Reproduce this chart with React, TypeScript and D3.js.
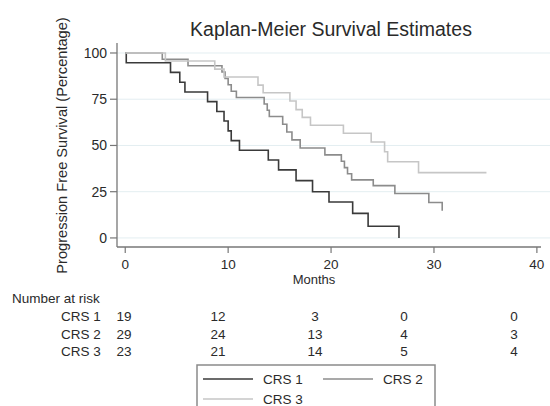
import React from 'react';
import * as d3 from 'd3';

// step points: time (months) and survival (%) after each drop
const crs1Times = [0, 0.1, 4.4, 5.3, 5.8, 8.0, 8.9, 9.6, 10.0, 10.3, 11.1, 13.9, 14.9, 16.6, 18.2, 19.8, 22.1, 23.6, 26.6];
const crs1Surv = [100, 94.7, 89.5, 84.2, 78.9, 73.7, 68.4, 63.2, 57.9, 52.6, 47.4, 42.1, 36.8, 31.0, 25.0, 19.4, 13.3, 6.3, 0];

const crs2Times = [0, 3.6, 6.1, 9.4, 9.7, 10.0, 10.3, 10.8, 13.5, 13.8, 14.0, 15.3, 15.7, 16.2, 17.0, 19.4, 21.0, 21.3, 21.6, 22.0, 24.1, 26.2, 29.5, 30.8];
const crs2Surv = [100, 96.6, 93.1, 89.7, 86.2, 82.8, 79.3, 75.9, 72.4, 69.0, 65.7, 61.5, 57.3, 53.0, 48.6, 44.9, 41.5, 38.0, 34.7, 31.4, 28.3, 24.0, 19.2, 14.7];

const crs3Times = [0, 3.9, 8.7, 9.6, 12.9, 13.4, 16.0, 16.6, 17.2, 18.0, 21.2, 23.9, 25.2, 25.5, 28.5, 35.1];
const crs3Surv = [100, 95.7, 91.3, 87.0, 82.6, 78.5, 74.0, 69.4, 65.2, 60.9, 56.6, 51.9, 46.6, 41.2, 35.3, 35.3];

const seriesNames = ['CRS 1', 'CRS 2', 'CRS 3'];
const seriesColors = ['#3a3a3a', '#8c8c8c', '#c6c6c6'];

const xTicks = [0, 10, 20, 30, 40];
const yTicks = [0, 25, 50, 75, 100];

const riskTimes = [0, 10, 20, 30, 40];
const riskCrs1 = [19, 12, 3, 0, 0];
const riskCrs2 = [29, 24, 13, 4, 3];
const riskCrs3 = [23, 21, 14, 5, 4];

const W = 550;
const H = 406;
const font = "'Liberation Sans', Arial, sans-serif";
const textColor = '#2a2a2a';

export default function App() {
  const x = d3.scaleLinear().domain([-0.8, 40.4]).range([117, 541]);
  const y = d3.scaleLinear().domain([-4.9, 105.4]).range([247, 43]);
  // the risk table columns sit a little left of the ticks in the original
  const riskX = d3.scaleLinear().domain(riskTimes).range([124, 218, 315, 404, 514]);

  const line = d3.line<[number, number]>()
    .x(d => x(d[0]))
    .y(d => y(d[1]))
    .curve(d3.curveStepAfter);

  const series = [
    d3.zip(crs1Times, crs1Surv) as [number, number][],
    d3.zip(crs2Times, crs2Surv) as [number, number][],
    d3.zip(crs3Times, crs3Surv) as [number, number][],
  ];
  const risk = [riskCrs1, riskCrs2, riskCrs3];

  const legendItems = [
    { name: seriesNames[0], color: seriesColors[0], lx: 203, ly: 379 },
    { name: seriesNames[1], color: seriesColors[1], lx: 323, ly: 379 },
    { name: seriesNames[2], color: seriesColors[2], lx: 203, ly: 399 },
  ];

  return (
    <svg width={W} height={H} style={{ position: 'absolute', left: 0, top: 0, background: '#fff' }} fontFamily={font}>
      <text x={331} y={36} textAnchor="middle" fontSize={19.5} fill={textColor}>Kaplan-Meier Survival Estimates</text>

      {yTicks.map(t => (
        <line key={'g' + t} x1={117} x2={W} y1={y(t)} y2={y(t)} stroke="#e3eef1" strokeWidth={1} />
      ))}

      {/* axes */}
      <line x1={117} x2={117} y1={43} y2={247} stroke="#777" strokeWidth={1.3} />
      <line x1={117} x2={541} y1={247} y2={247} stroke="#777" strokeWidth={1.3} />
      {yTicks.map(t => (
        <g key={'y' + t}>
          <line x1={110} x2={117} y1={y(t)} y2={y(t)} stroke="#777" strokeWidth={1.2} />
          <text x={107} y={y(t)} dy="0.35em" textAnchor="end" fontSize={14} fill={textColor}>{t}</text>
        </g>
      ))}
      {xTicks.map(t => (
        <g key={'x' + t}>
          <line x1={x(t)} x2={x(t)} y1={247} y2={253} stroke="#777" strokeWidth={1.2} />
          <text x={x(t)} y={268.5} textAnchor="middle" fontSize={13.5} fill={textColor}>{t}</text>
        </g>
      ))}
      <text x={314} y={284} textAnchor="middle" fontSize={13} fill={textColor}>Months</text>
      <text transform="translate(67,145.5) rotate(-90)" textAnchor="middle" fontSize={14.6} fill={textColor}>
        Progression Free Survival (Percentage)
      </text>

      {series.map((s, i) => (
        <path key={'s' + i} d={line(s) || ''} fill="none" stroke={seriesColors[i]} strokeWidth={1.6} />
      ))}

      {/* number at risk */}
      <text x={12} y={303} fontSize={13.5} fill={textColor}>Number at risk</text>
      {risk.map((row, i) => (
        <g key={'r' + i}>
          <text x={61} y={321 + i * 17.5} fontSize={13.5} fill={textColor}>{seriesNames[i]}</text>
          {row.map((v, j) => (
            <text key={j} x={riskX(riskTimes[j])} y={321 + i * 17.5} textAnchor="middle" fontSize={13.5} fill={textColor}>{v}</text>
          ))}
        </g>
      ))}

      {/* legend */}
      <rect x={197} y={365} width={238} height={60} fill="#fff" stroke="#8a8a8a" strokeWidth={1.5} />
      {legendItems.map(d => (
        <g key={d.name}>
          <line x1={d.lx} x2={d.lx + 50} y1={d.ly} y2={d.ly} stroke={d.color} strokeWidth={1.4} />
          <text x={d.lx + 60} y={d.ly} dy="0.35em" fontSize={13.5} fill={textColor}>{d.name}</text>
        </g>
      ))}
    </svg>
  );
}
